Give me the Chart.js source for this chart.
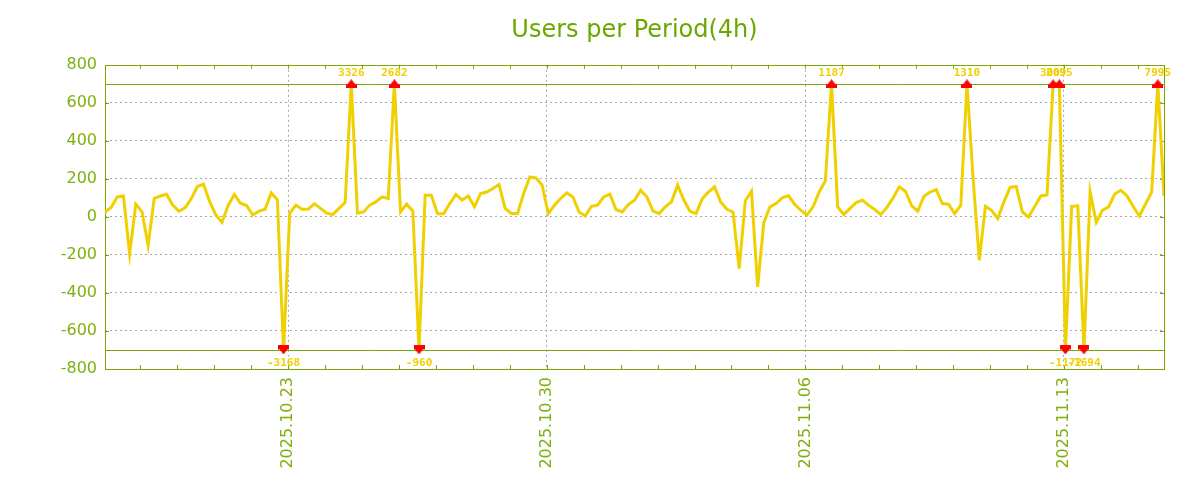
<!DOCTYPE html>
<html>
<head>
<meta charset="utf-8">
<script src="https://cdn.jsdelivr.net/npm/chart.js@4.4.1/dist/chart.umd.min.js"></script>
<style>
  html, body { margin: 0; padding: 0; background: #fff; }
  #wrap { width: 1200px; height: 500px; }
</style>
</head>
<body>
<div id="wrap"><canvas id="usersChart" width="1200" height="500"></canvas></div>
<script>
// users per 4h period, first period 2025.10.18 01:00
const users = [
    26, 50, 105, 110, -195, 67, 28, -150, 98, 110,
    119, 62, 30, 48, 95, 160, 172, 80, 10, -28,
    60, 118, 72, 60, 10, 30, 40, 126, 90, -3168,
    20, 61, 40, 40, 70, 45, 20, 12, 45, 75,
    3326, 20, 26, 62, 79, 105, 97, 2682, 26, 67,
    30, -960, 114, 114, 17, 17, 70, 118, 88, 110,
    53, 123, 131, 149, 170, 44, 18, 18, 123, 210,
    205, 167, 17, 62, 97, 126, 105, 26, 5, 56,
    62, 105, 119, 39, 26, 65, 88, 140, 105, 32,
    17, 53, 79, 167, 90, 30, 17, 95, 130, 158,
    79, 40, 26, -272, 85, 135, -368, -30, 53, 70,
    100, 112, 67, 35, 9, 53, 131, 190, 1187, 53,
    13, 45, 75, 88, 62, 39, 13, 50, 100, 158,
    135, 60, 30, 108, 131, 143, 70, 67, 17, 62,
    1310, 200, -228, 56, 35, -9, 79, 155, 160, 26,
    0, 55, 110, 115, 3009, 2095, -1172, 55, 58, -1694,
    131, -28, 35, 53, 120, 140, 110, 55, 5, 68,
    131, 7995, 110
];

const firstHour = 1;      // hours after 2025.10.18 00:00
const stepHours = 4;
const tickDays = [5, 12, 19, 26];
const tickLabels = ['2025.10.23', '2025.10.30', '2025.11.06', '2025.11.13'];
const clipLimit = 700;

const green = '#78a800';
const labelGreen = '#80b010';
const yellow = '#f0d000';

const points = users.map((v, i) => ({ x: firstHour + i * stepHours, y: Math.max(-clipLimit, Math.min(clipLimit, v)), v: v }));
const peaks = points.filter(p => p.v > clipLimit);
const dips = points.filter(p => p.v < -clipLimit);

// red marker: small triangle sitting on a bar
const marker = document.createElement('canvas');
marker.width = 11;
marker.height = 9;
const mctx = marker.getContext('2d');
mctx.fillStyle = '#ff0000';
mctx.beginPath();
mctx.moveTo(5.5, 0);
mctx.lineTo(9.5, 5);
mctx.lineTo(1.5, 5);
mctx.closePath();
mctx.fill();
mctx.fillRect(0, 5, 11, 4);

const framePlugin = {
    id: 'frame',
    beforeDatasetsDraw(chart) {
        const { ctx, chartArea: a, scales } = chart;
        ctx.save();
        ctx.strokeStyle = green;
        ctx.lineWidth = 1;
        // limit lines
        [clipLimit, -clipLimit].forEach(lim => {
            const y = Math.round(scales.y.getPixelForValue(lim)) + 0.5;
            ctx.beginPath();
            ctx.moveTo(a.left, y);
            ctx.lineTo(a.right, y);
            ctx.stroke();
        });
        // day ticks
        for (let d = 1; d <= 28; d++) {
            const x = Math.round(scales.x.getPixelForValue(d * 24)) + 0.5;
            if (x < a.left || x > a.right) continue;
            ctx.beginPath();
            ctx.moveTo(x, a.top);
            ctx.lineTo(x, a.top + 4);
            ctx.moveTo(x, a.bottom);
            ctx.lineTo(x, a.bottom - 4);
            ctx.stroke();
        }
        for (let v = -600; v <= 600; v += 200) {
            const y = Math.round(scales.y.getPixelForValue(v)) + 0.5;
            ctx.beginPath();
            ctx.moveTo(a.left, y);
            ctx.lineTo(a.left + 4, y);
            ctx.moveTo(a.right, y);
            ctx.lineTo(a.right - 4, y);
            ctx.stroke();
        }
        ctx.strokeRect(Math.round(a.left) + 0.5, Math.round(a.top) + 0.5,
            Math.round(a.right - a.left), Math.round(a.bottom - a.top));
        ctx.restore();
    },
    afterDatasetsDraw(chart) {
        const { ctx } = chart;
        ctx.save();
        ctx.fillStyle = yellow;
        ctx.font = 'bold 11px "DejaVu Sans Mono"';
        ctx.textAlign = 'center';
        ctx.textBaseline = 'middle';
        chart.getDatasetMeta(1).data.forEach((el, i) => {
            ctx.fillText(String(peaks[i].v), el.x, el.y - 11);
        });
        chart.getDatasetMeta(2).data.forEach((el, i) => {
            ctx.fillText(String(dips[i].v), el.x, el.y + 13);
        });
        ctx.restore();
    }
};

new Chart(document.getElementById('usersChart'), {
    type: 'line',
    data: {
        datasets: [{
            data: points,
            borderColor: yellow,
            borderWidth: 3,
            pointRadius: 0,
            tension: 0,
            fill: false,
            order: 2
        }, {
            data: peaks,
            showLine: false,
            pointStyle: marker,
            pointRadius: 5,
            order: 1
        }, {
            data: dips,
            showLine: false,
            pointStyle: marker,
            pointRotation: 180,
            pointRadius: 5,
            order: 1
        }]
    },
    options: {
        responsive: false,
        animation: false,
        events: [],
        layout: { padding: { left: 0, right: 36, top: 0, bottom: 0 } },
        scales: {
            x: {
                type: 'linear',
                min: firstHour,
                max: firstHour + (users.length - 1) * stepHours,
                afterBuildTicks: scale => {
                    scale.ticks = tickDays.map(d => ({ value: d * 24 }));
                },
                afterFit: scale => { scale.height = 131; },
                ticks: {
                    autoSkip: false,
                    minRotation: 90,
                    maxRotation: 90,
                    padding: 8,
                    color: labelGreen,
                    font: { family: '"DejaVu Sans"', size: 16 },
                    callback: value => tickLabels[tickDays.indexOf(value / 24)]
                },
                grid: { color: '#a8a8a8', drawTicks: false },
                border: { display: false, dash: [2, 3] }
            },
            y: {
                min: -800,
                max: 800,
                afterFit: scale => { scale.width = 105; },
                ticks: {
                    stepSize: 200,
                    padding: 8,
                    color: labelGreen,
                    font: { family: '"DejaVu Sans"', size: 16 }
                },
                grid: {
                    drawTicks: false,
                    color: ctx => Math.abs(ctx.tick.value) === 800 ? 'rgba(0,0,0,0)' : '#a8a8a8'
                },
                border: { display: false, dash: [2, 3] }
            }
        },
        plugins: {
            legend: { display: false },
            tooltip: { enabled: false },
            title: {
                display: true,
                text: 'Users per Period(4h)',
                fullSize: false,
                color: '#6aa800',
                font: { family: '"DejaVu Sans"', size: 24, weight: 'normal' },
                padding: { top: 16, bottom: 20 }
            }
        }
    },
    plugins: [framePlugin]
});
</script>
</body>
</html>
